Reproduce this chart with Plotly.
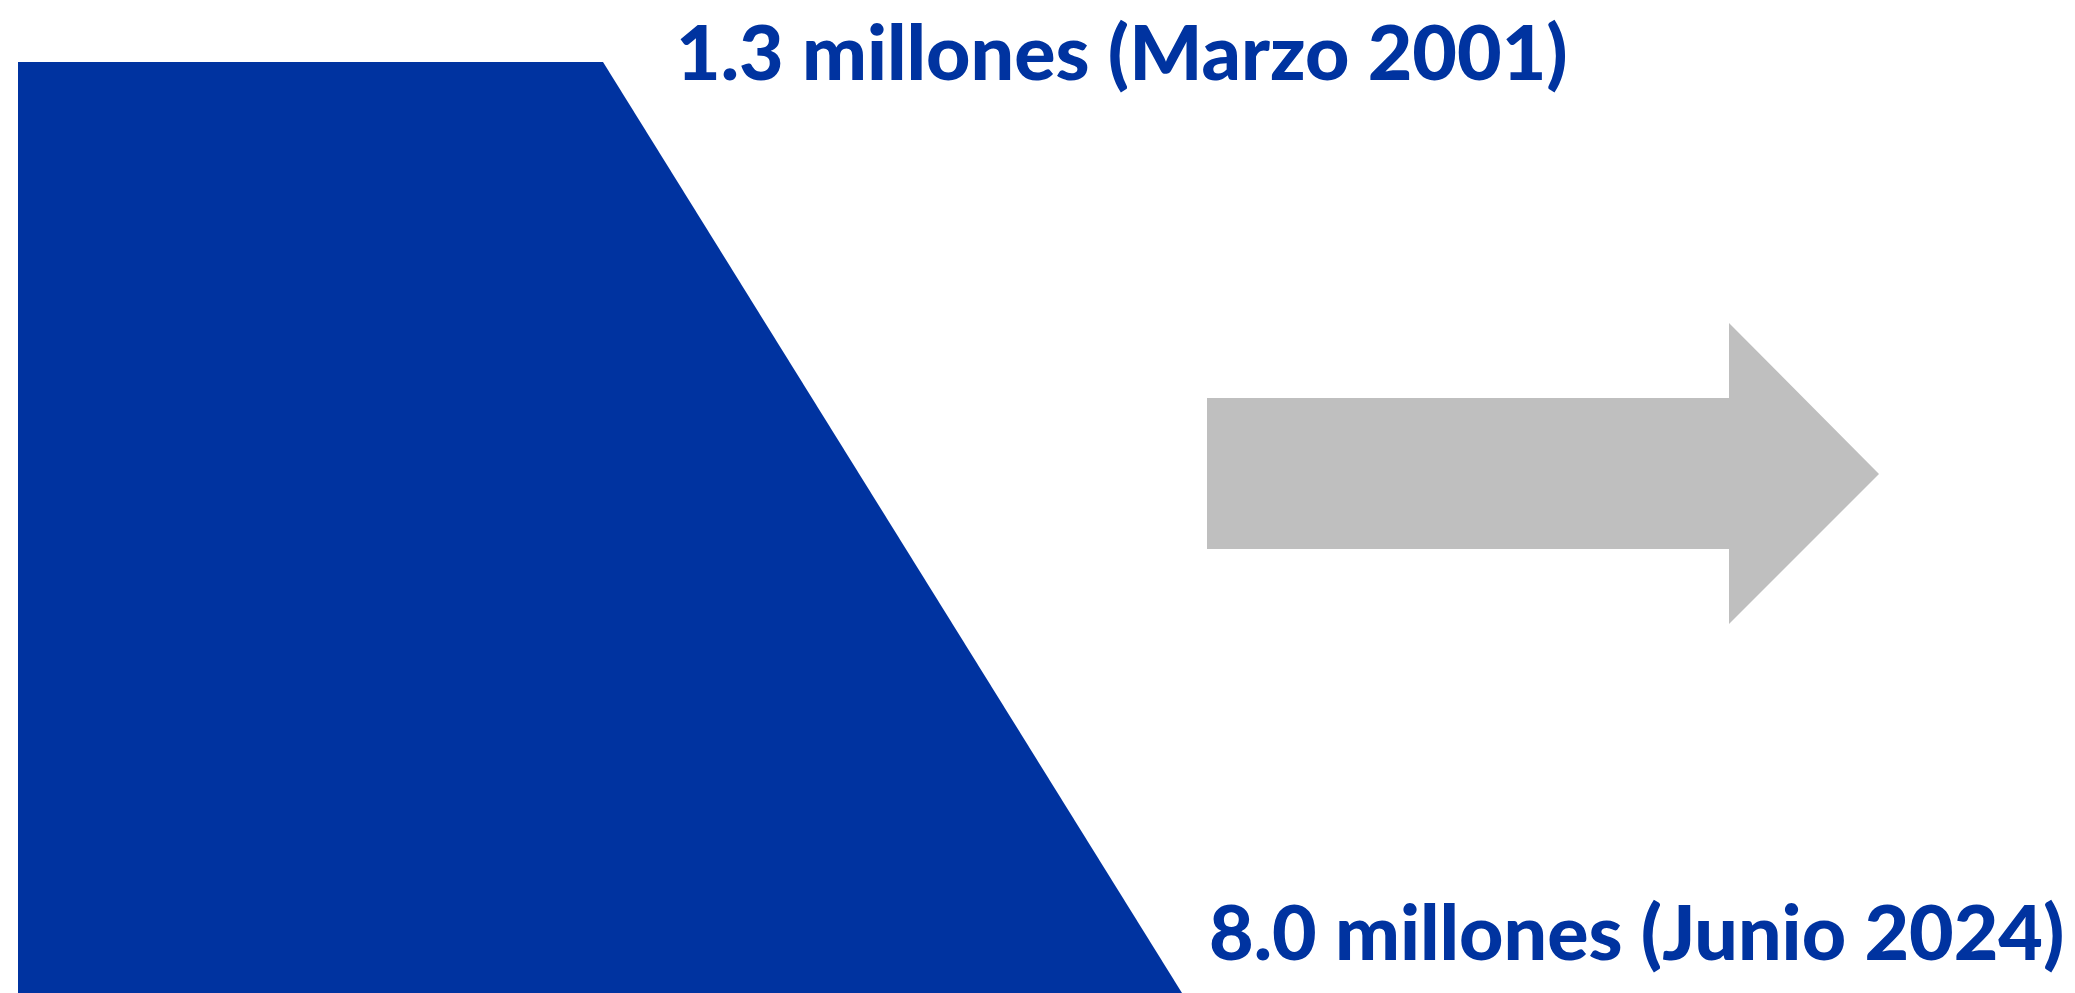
import plotly.graph_objects as go

# Data
values_millions = [1.3, 8.0]
periods = ["Marzo 2001", "Junio 2024"]
labels = [f"{v:.1f} millones ({p})" for v, p in zip(values_millions, periods)]

W, H = 2075, 993
BLUE = "#0033A0"
GRAY = "#BFBFBF"

# Funnel-like blue shape (canvas coordinates)
funnel_x = [18, 603, 1182, 18, 18]
funnel_y = [62, 62, 993, 993, 62]

# Gray arrow
arrow_x = [1207, 1729, 1729, 1879, 1729, 1729, 1207, 1207]
arrow_y = [398, 398, 323, 474, 624, 549, 549, 398]

fig = go.Figure()
fig.add_trace(go.Scatter(x=funnel_x, y=funnel_y, mode="lines", fill="toself",
                         fillcolor=BLUE, line=dict(width=0, color=BLUE),
                         hoverinfo="skip", showlegend=False))
fig.add_trace(go.Scatter(x=arrow_x, y=arrow_y, mode="lines", fill="toself",
                         fillcolor=GRAY, line=dict(width=0, color=GRAY),
                         hoverinfo="skip", showlegend=False))

font = dict(family="Lato", size=77, color=BLUE, weight=900)
fig.add_annotation(x=1122, y=50, text=labels[0], showarrow=False,
                   xref="x", yref="y", xanchor="center", yanchor="middle", font=font)
fig.add_annotation(x=1636, y=930, text=labels[1], showarrow=False,
                   xref="x", yref="y", xanchor="center", yanchor="middle", font=font)

fig.update_xaxes(range=[0, W], visible=False, fixedrange=True)
fig.update_yaxes(range=[H, 0], visible=False, fixedrange=True)
fig.update_layout(width=W, height=H, margin=dict(l=0, r=0, t=0, b=0),
                  plot_bgcolor="white", paper_bgcolor="white")

fig.write_html("out.html", config={"displayModeBar": False})
